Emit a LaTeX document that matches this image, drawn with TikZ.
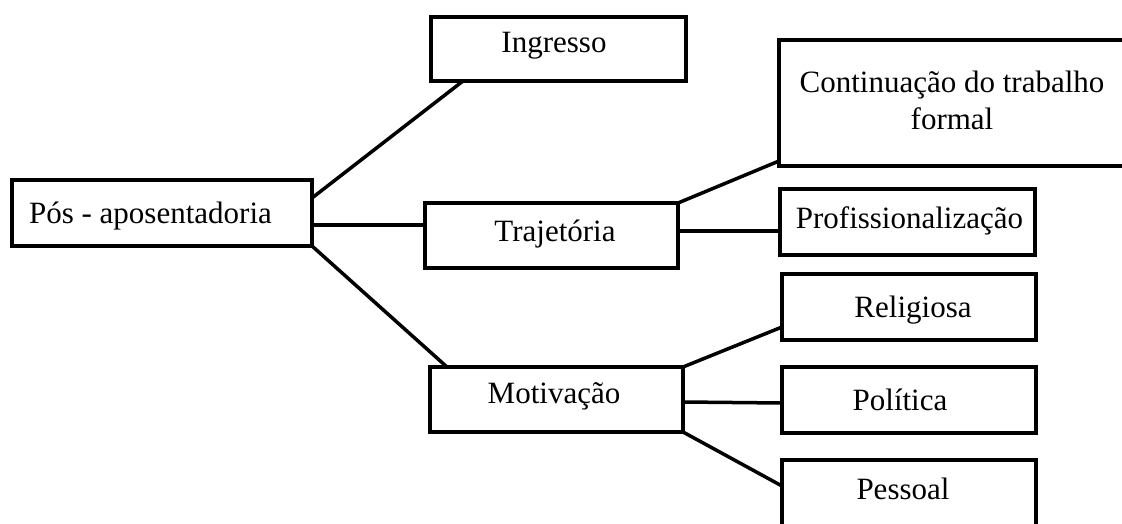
\documentclass[tikz,border=0pt]{standalone}
\usepackage{fontspec}
\setmainfont{Liberation Serif}
\tikzset{
  box/.style={draw=black, line width=4pt, fill=white, inner sep=0pt, outer sep=0pt, anchor=north west},
  lbl/.style={inner sep=0pt, anchor=base, font=\fontsize{31}{37}\selectfont},
  conn/.style={draw=black, line width=3.5pt}
}
\begin{document}
\begin{tikzpicture}[x=1pt,y=-1pt]
\clip (0,0) rectangle (1122,524);
\fill[white] (0,0) rectangle (1122,524);
% boxes
\node[box, minimum width=300pt, minimum height=66pt] (pos) at (12,180) {};
\node[box, minimum width=255pt, minimum height=64pt] (ing) at (431,17) {};
\node[box, minimum width=360pt, minimum height=126pt] (cont) at (779,40) {};
\node[box, minimum width=253pt, minimum height=65pt] (traj) at (425,203) {};
\node[box, minimum width=255pt, minimum height=66pt] (prof) at (780,189) {};
\node[box, minimum width=254pt, minimum height=66pt] (rel) at (782,274) {};
\node[box, minimum width=253pt, minimum height=65pt] (mot) at (430,367) {};
\node[box, minimum width=254pt, minimum height=66pt] (pol) at (782,367) {};
\node[box, minimum width=254pt, minimum height=80pt] (pes) at (782,460) {};
% texts
\node[lbl] (tpos) at (150.5,223) {Pós - aposentadoria};
\node[lbl] (ting) at (554,53) {Ingresso};
\node[lbl, align=center] (tcont) at (952,130) {Continuação do trabalho\\formal};
\node[lbl] (ttraj) at (555,241) {Trajetória};
\node[lbl] (tprof) at (909.5,228) {Profissionalização};
\node[lbl] (trel) at (913,317) {Religiosa};
\node[lbl] (tmot) at (554,403) {Motivação};
\node[lbl] (tpol) at (900,410) {Política};
\node[lbl] (tpes) at (903,499) {Pessoal};
% connectors
\draw[conn] ([yshift=-18pt]pos.north east) -- ([xshift=32pt]ing.south west);
\draw[conn] ([yshift=-12pt]pos.east) -- ([yshift=10.5pt]traj.west);
\draw[conn] (pos.south east) -- ([xshift=17pt]mot.north west);
\draw[conn] (traj.north east) -- ([yshift=5pt]cont.south west);
\draw[conn] ([yshift=4.5pt]traj.east) -- ([yshift=-9pt]prof.west);
\draw[conn] (mot.north east) -- ([yshift=-20pt]rel.west);
\draw[conn] ([yshift=-2.5pt]mot.east) -- ([yshift=-3pt]pol.west);
\draw[conn] (mot.south east) -- ([yshift=-26pt]pes.north west);
\end{tikzpicture}
\end{document}
